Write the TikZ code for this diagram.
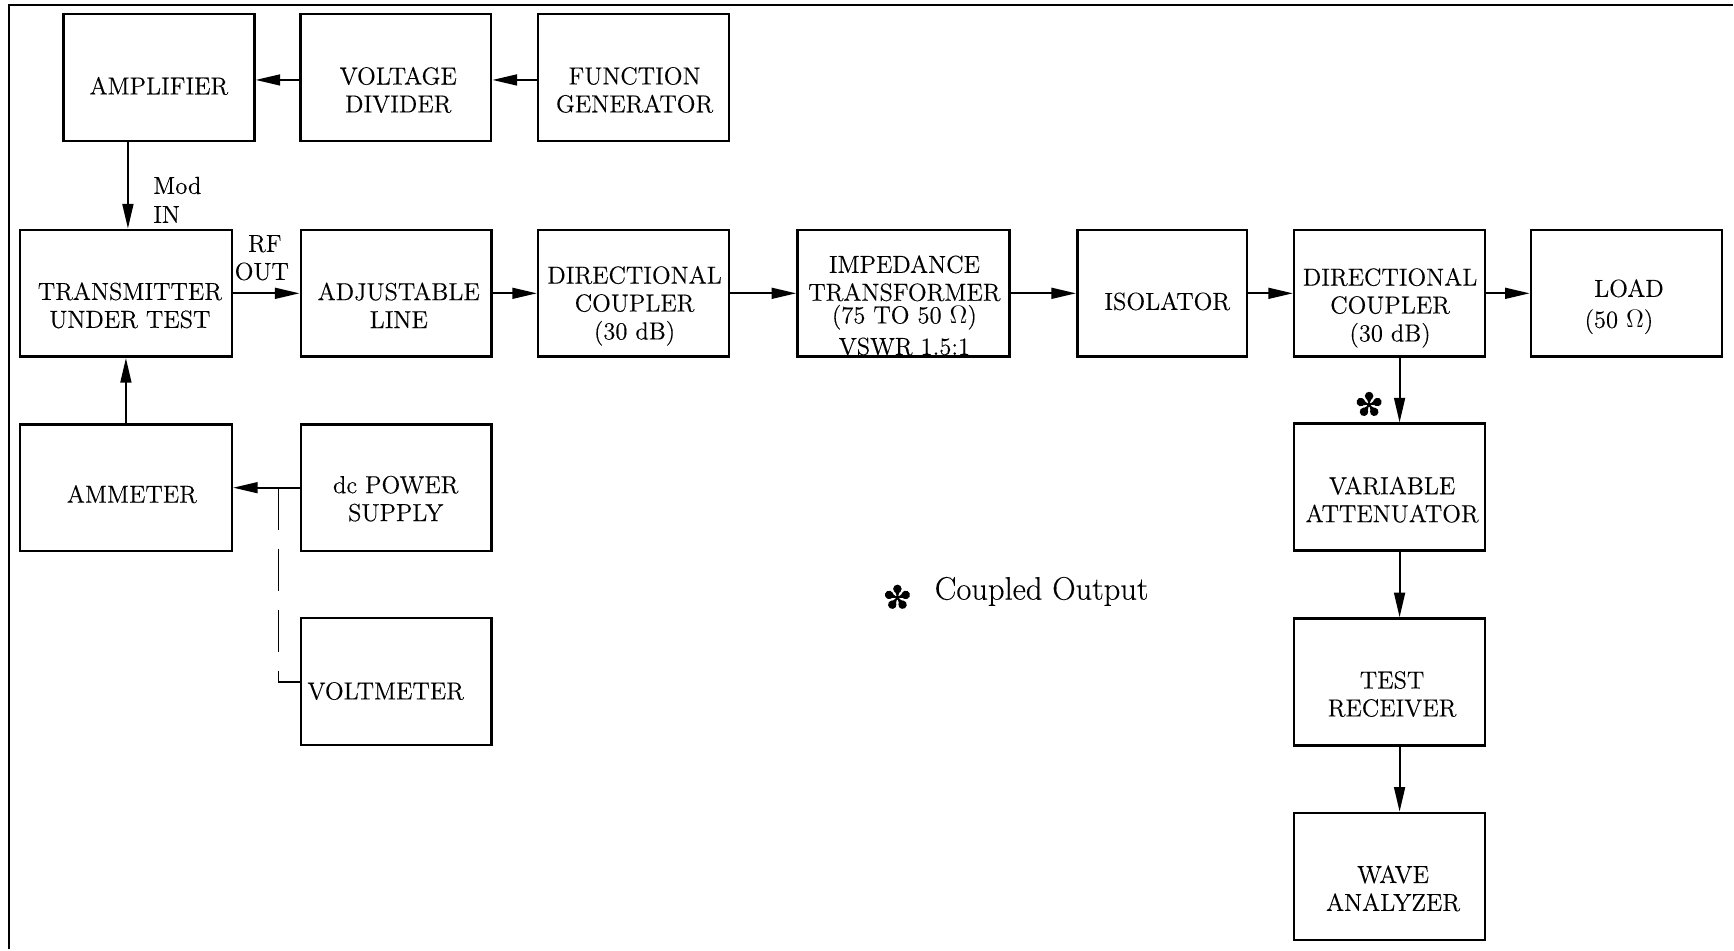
\documentclass[tikz,border=0pt]{standalone}
\usepackage{fontspec}
\usetikzlibrary{arrows.meta,calc}
\newfontfamily\diagfont{lmroman12-regular.otf}[FakeBold=0.3]
\newfontfamily\legendfont{lmroman17-regular.otf}[FakeBold=0.3]
\begin{document}
\begin{tikzpicture}[x=0.02cm,y=-0.02cm,
  box/.style={draw, line width=1.5pt, inner sep=0pt, minimum width=3.82cm, minimum height=2.54cm},
  wide/.style={minimum width=4.24cm},
  narrow/.style={minimum width=3.40cm},
  txt/.style={align=center, inner sep=0pt, font=\diagfont\fontsize{14}{15.9}\selectfont},
  arr/.style={line width=1.1pt, -{Triangle[length=14pt,width=6.2pt]}},
  frame/.style={line width=1.3pt},
  petalstar/.pic={
    \fill (0,0) circle[radius=0.045cm];
    \foreach \a in {90,162,234,306,18}{
      \fill[rotate=\a] (0,0) -- (0.14cm,0.055cm) -- (0.14cm,-0.055cm) -- cycle;
      \fill[rotate=\a] (0.175cm,0) circle[radius=0.085cm];
    }
  }]
% page and frame
\fill[white] (0,0) rectangle (1734,950);
\draw[frame] (9,950) -- (9,5) -- (1734,5);

% blocks
\node[box] (amp) at (159,77.5) {};
\node[box] (vd) at (396,77.5) {};
\node[box] (fg) at (634,77.5) {};
\node[box,wide] (tx) at (126,293.5) {};
\node[box] (adj) at (396.5,293.5) {};
\node[box] (dc1) at (634,293.5) {};
\node[box,wide] (imp) at (904,293.5) {};
\node[box,narrow] (iso) at (1163,293.5) {};
\node[box] (dc2) at (1390.5,293.5) {};
\node[box] (load) at (1627.5,293.5) {};
\node[box,wide] (amm) at (126,488) {};
\node[box] (dcps) at (396.5,488) {};
\node[box] (volt) at (396.5,682) {};
\node[box] (va) at (1390.5,487.5) {};
\node[box] (tr) at (1390.5,682.5) {};
\node[box] (wa) at (1390.5,877) {};

% block texts
\node[txt] (amp-t) at ($(amp)+(0,8.5)$) {AMPLIFIER};
\node[txt] (vd-t) at ($(vd)+(2.5,12.5)$) {VOLTAGE\\DIVIDER};
\node[txt] (fg-t) at ($(fg)+(1,12.5)$) {FUNCTION\\GENERATOR};
\node[txt] (tx-t) at ($(tx)+(4,12)$) {TRANSMITTER\\UNDER TEST};
\node[txt] (adj-t) at ($(adj)+(2.5,12)$) {ADJUSTABLE\\LINE};
\node[txt] (dc1-t) at ($(dc1)+(1,12.5)$) {DIRECTIONAL\\COUPLER\\(30 dB)};
\node[txt] (imp-t) at ($(imp)+(1,12)$) {IMPEDANCE\\TRANSFORMER\\[-3pt](75 TO 50 $\Omega$)\\[2pt]VSWR 1.5:1};
\node[txt] (iso-t) at ($(iso)+(5,8)$) {ISOLATOR};
\node[txt] (dc2-t) at ($(dc2)+(0.5,14.5)$) {DIRECTIONAL\\COUPLER\\(30 dB)};
\node[txt,anchor=base] (load-t1) at ($(load)+(2.5,3.5)$) {LOAD};
\node[txt,anchor=base] (load-t2) at ($(load)+(-7.5,34.5)$) {(50 $\Omega$)};
\node[txt] (amm-t) at ($(amm)+(6,6.5)$) {AMMETER};
\node[txt] (dcps-t) at ($(dcps)+(-0.5,11)$) {dc POWER\\SUPPLY};
\node[txt] (volt-t) at ($(volt)+(-10.5,9.5)$) {VOLTMETER};
\node[txt] (va-t) at ($(va)+(2.5,12.5)$) {VARIABLE\\ATTENUATOR};
\node[txt] (tr-t) at ($(tr)+(2.5,12)$) {TEST\\RECEIVER};
\node[txt] (wa-t) at ($(wa)+(3.5,12)$) {WAVE\\ANALYZER};

% port labels
\node[txt,anchor=base west] (mod1) at (153,194) {Mod};
\node[txt,anchor=base west] (mod2) at (153,223) {IN};
\node[txt,anchor=base] (rf1) at (265,252) {RF};
\node[txt,anchor=base] (rf2) at (262,280) {OUT};

% signal paths
\draw[arr] ($(vd.west)+(0,2.5)$) -- ($(amp.east)+(0,2.5)$);
\draw[arr] ($(fg.west)+(0,2.5)$) -- ($(vd.east)+(0,2.5)$);
\draw[arr] ($(amp.south -| tx.north)+(2,0)$) -- ($(tx.north)+(2,0)$);
\draw[arr] (tx.east) -- (adj.west);
\draw[arr] (adj.east) -- (dc1.west);
\draw[arr] (dc1.east) -- (imp.west);
\draw[arr] (imp.east) -- (iso.west);
\draw[arr] (iso.east) -- (dc2.west);
\draw[arr] (dc2.east) -- (load.west);
\draw[arr] ($(dc2.south)+(10,0)$) -- ($(va.north)+(10,0)$);
\draw[arr] ($(va.south)+(10,0)$) -- ($(tr.north)+(10,0)$);
\draw[arr] ($(tr.south)+(10,0)$) -- ($(wa.north)+(10,0)$);
\draw[arr] (amm.north) -- (tx.south);
\draw[arr] (dcps.west) -- (amm.east);
\coordinate (tap) at ($(dcps.west)+(-21,0)$);
\draw[line width=1.1pt, dash pattern=on 0.84cm off 0.38cm] (tap) |- (volt.west);

% coupled-output marks
\path (1370,405) pic {petalstar};
\path (898,598) pic {petalstar};
\node[anchor=base west, inner sep=0pt, font=\legendfont\fontsize{18.5}{21}\selectfont] (legend) at (935,600) {Coupled Output};
\end{tikzpicture}
\end{document}
